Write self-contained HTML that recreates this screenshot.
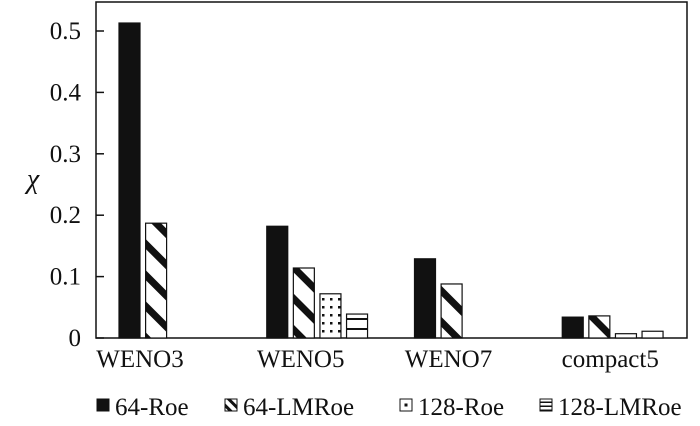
<!DOCTYPE html>
<html><head><meta charset="utf-8"><style>
body{margin:0;background:#fff}
svg{display:block;font-family:"Liberation Serif",serif}
</style></head><body>
<svg width="700" height="426">
<defs>
<pattern id="diag" patternUnits="userSpaceOnUse" width="22" height="22" patternTransform="rotate(45)"><rect width="22" height="22" fill="#fff"/><rect width="22" height="7" fill="#111"/></pattern>
<pattern id="dots" patternUnits="userSpaceOnUse" width="8" height="8"><rect width="8" height="8" fill="#fff"/><rect x="2" y="2" width="2.5" height="2.5" fill="#111"/></pattern>
<pattern id="hlines" patternUnits="userSpaceOnUse" width="8" height="10"><rect width="8" height="10" fill="#fff"/><rect y="8" width="8" height="2" fill="#111"/></pattern>
<pattern id="sdiag" patternUnits="userSpaceOnUse" width="7" height="7" patternTransform="rotate(45)"><rect width="7" height="7" fill="#fff"/><rect width="7" height="3" fill="#111"/></pattern>
<pattern id="sdots" patternUnits="userSpaceOnUse" width="12" height="12" x="400" y="399"><rect width="12" height="12" fill="#fff"/><rect x="4.5" y="4.5" width="3" height="3" fill="#111"/></pattern>
<pattern id="shlines" patternUnits="userSpaceOnUse" width="12" height="4" y="399"><rect width="12" height="4" fill="#fff"/><rect y="2.5" width="12" height="1.5" fill="#111"/></pattern>
</defs>
<g id="plot"></g>
</svg>
<script>
const categories=["WENO3","WENO5","WENO7","compact5"];
const seriesNames=["64-Roe","64-LMRoe","128-Roe","128-LMRoe"];
const s64Roe=[0.513,0.182,0.129,0.034];
const s64LMRoe=[0.187,0.114,0.088,0.036];
const s128Roe=[null,0.072,null,0.007];
const s128LMRoe=[null,0.039,null,0.011];
const yTicks=[0,0.1,0.2,0.3,0.4,0.5];
const yTickLabels=["0","0.1","0.2","0.3","0.4","0.5"];
const series=[s64Roe,s64LMRoe,s128Roe,s128LMRoe];
const fills=["#111","url(#diag)","url(#dots)","url(#hlines)"];
const sfills=["#111","url(#sdiag)","url(#sdots)","url(#shlines)"];
const NS="http://www.w3.org/2000/svg";
const g=document.getElementById('plot');
const L=96,R=687,T=2,B=338;
const yScale=v=>B-v*614;
const catW=(R-L)/categories.length;
const xBar=(c,s)=>L+c*catW+23+s*26.6;
function mk(t,a,txt){const e=document.createElementNS(NS,t);for(const k in a)e.setAttribute(k,a[k]);if(txt!=null)e.textContent=txt;g.appendChild(e);return e;}
let e=mk('rect',{x:L,y:T,width:R-L,height:B-T,fill:'none',stroke:'#111','stroke-width':1.5});

yTicks.forEach((v,i)=>{
 let t=mk('line',{x1:L,x2:L+8,y1:yScale(v),y2:yScale(v),stroke:'#111','stroke-width':1.5});
 
 let l=mk('text',{x:L-15,y:yScale(v)+8,'text-anchor':'end','font-size':25,fill:'#111'},yTickLabels[i]);
 
});
e=mk('text',{x:33,y:188,'text-anchor':'middle','font-size':28,'font-style':'italic',fill:'#111'},'χ');

categories.forEach((c,ci)=>{
 series.forEach((s,si)=>{
  if(s[ci]==null)return;
  let r=mk('rect',{x:xBar(ci,si),y:yScale(s[ci]),width:21,height:B-yScale(s[ci]),fill:fills[si],stroke:'#111','stroke-width':1.2});
  
  
 });
 let l=mk('text',{x:xBar(ci,0)+ (ci==0?21:ci==3?48:34),y:367,'text-anchor':'middle','font-size':25,fill:'#111'},c);
 
});
const legX=[97,225,400,540];
seriesNames.forEach((n,i)=>{
 let r=mk('rect',{x:legX[i],y:399,width:12,height:12,fill:sfills[i],stroke:'#111','stroke-width':1});
 
 let t=mk('text',{x:legX[i]+18,y:415,'font-size':25,fill:'#111'},n);
 
});
</script>
</body></html>
